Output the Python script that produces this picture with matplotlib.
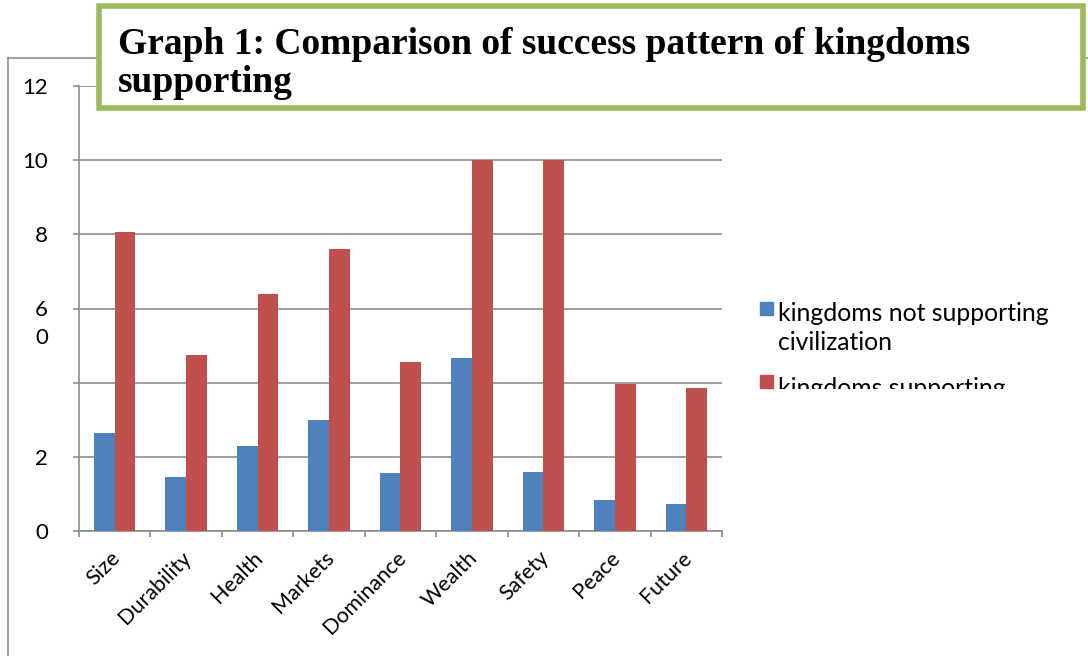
import matplotlib
matplotlib.use("Agg")
import matplotlib.pyplot as plt
from matplotlib.patches import Rectangle
from matplotlib.lines import Line2D
from matplotlib.transforms import Bbox
import numpy as np

categories = ["Size", "Durability", "Health", "Markets", "Dominance",
              "Wealth", "Safety", "Peace", "Future"]
not_supporting = [2.64, 1.46, 2.29, 2.99, 1.56, 4.66, 1.59, 0.84, 0.73]
supporting = [8.06, 4.74, 6.39, 7.60, 4.56, 10.0, 10.0, 3.96, 3.85]
series_names = ["kingdoms not supporting\ncivilization", "kingdoms supporting"]
ytick_vals = [0, 2, 4, 6, 8, 10, 12]
ytick_text = ["0", "2", "", "6", "8", "10", "12"]

blue = "#4F81BD"
red = "#C0504D"
gray = "#8C8C8C"
label_font = "Lato"

W, H = 1088, 656
fig = plt.figure(figsize=(W / 100, H / 100), dpi=100)


def fx(px):
    return px / W


def fy(px):
    return 1 - px / H


# outer chart frame (top and left edges visible)
fig.add_artist(Line2D([fx(8), 1.0], [fy(58), fy(58)], transform=fig.transFigure,
                      color=gray, lw=1.2))
fig.add_artist(Line2D([fx(8), fx(8)], [0, fy(58)], transform=fig.transFigure,
                      color=gray, lw=1.2))

ax = fig.add_axes([fx(79), fy(531), fx(722 - 79), (531 - 86) / H])
x = np.arange(len(categories))
bw = 0.29
ax.bar(x - bw / 2, not_supporting, bw, color=blue, zorder=3)
ax.bar(x + bw / 2, supporting, bw, color=red, zorder=3)

ax.set_xlim(-0.5, len(categories) - 0.5)
ax.set_ylim(0, 12)
ax.set_yticks(ytick_vals)
ax.set_yticklabels(ytick_text, fontfamily=label_font, fontsize=16)
ax.yaxis.grid(True, color=gray, lw=1.2, zorder=0)
ax.tick_params(axis="y", length=4.5, width=1.2, color=gray, pad=18)
# stray digit below the 6 label
fig.text(fx(48), fy(338), "0", ha="right", va="center", fontfamily=label_font, fontsize=16)

ax.set_xticks(np.arange(len(categories) + 1) - 0.5)
ax.set_xticklabels([])
ax.tick_params(axis="x", length=4.5, width=1.2, color=gray)
for i, c in enumerate(categories):
    ax.text(i - 0.07, -0.45, c, rotation=45, rotation_mode="anchor", ha="right", va="top",
            fontfamily=label_font, fontsize=15.5)

for s in ["top", "right"]:
    ax.spines[s].set_visible(False)
for s in ["left", "bottom"]:
    ax.spines[s].set_color(gray)
    ax.spines[s].set_linewidth(1.2)

# legend drawn by hand; the second entry is cut off at the bottom
fig.add_artist(Rectangle((fx(760), fy(315)), fx(13), 13 / H, transform=fig.transFigure,
                         color=blue))
fig.text(fx(778), fy(350), series_names[0], ha="left", va="baseline",
         fontfamily=label_font, fontsize=17.8, linespacing=1.3)
fig.add_artist(Rectangle((fx(760), fy(388)), fx(13), 13 / H, transform=fig.transFigure,
                         color=red))
t = fig.text(fx(778), fy(396), series_names[1], ha="left", va="baseline",
             fontfamily=label_font, fontsize=17.8)
t.set_clip_box(Bbox.from_extents(740, H - 389, 1080, H - 360))
t.set_clip_on(True)

# title box
fig.add_artist(Rectangle((fx(99), fy(108)), fx(1083 - 99), (108 - 6) / H,
                         transform=fig.transFigure, facecolor="white",
                         edgecolor="#9BBB59", lw=4, zorder=10))
fig.text(fx(118), fy(92), "Graph 1: Comparison of success pattern of kingdoms\nsupporting",
         ha="left", va="baseline", fontfamily="Liberation Serif", fontweight="bold",
         fontsize=27, linespacing=1.1, zorder=11)

fig.savefig("out.png", dpi=100)
